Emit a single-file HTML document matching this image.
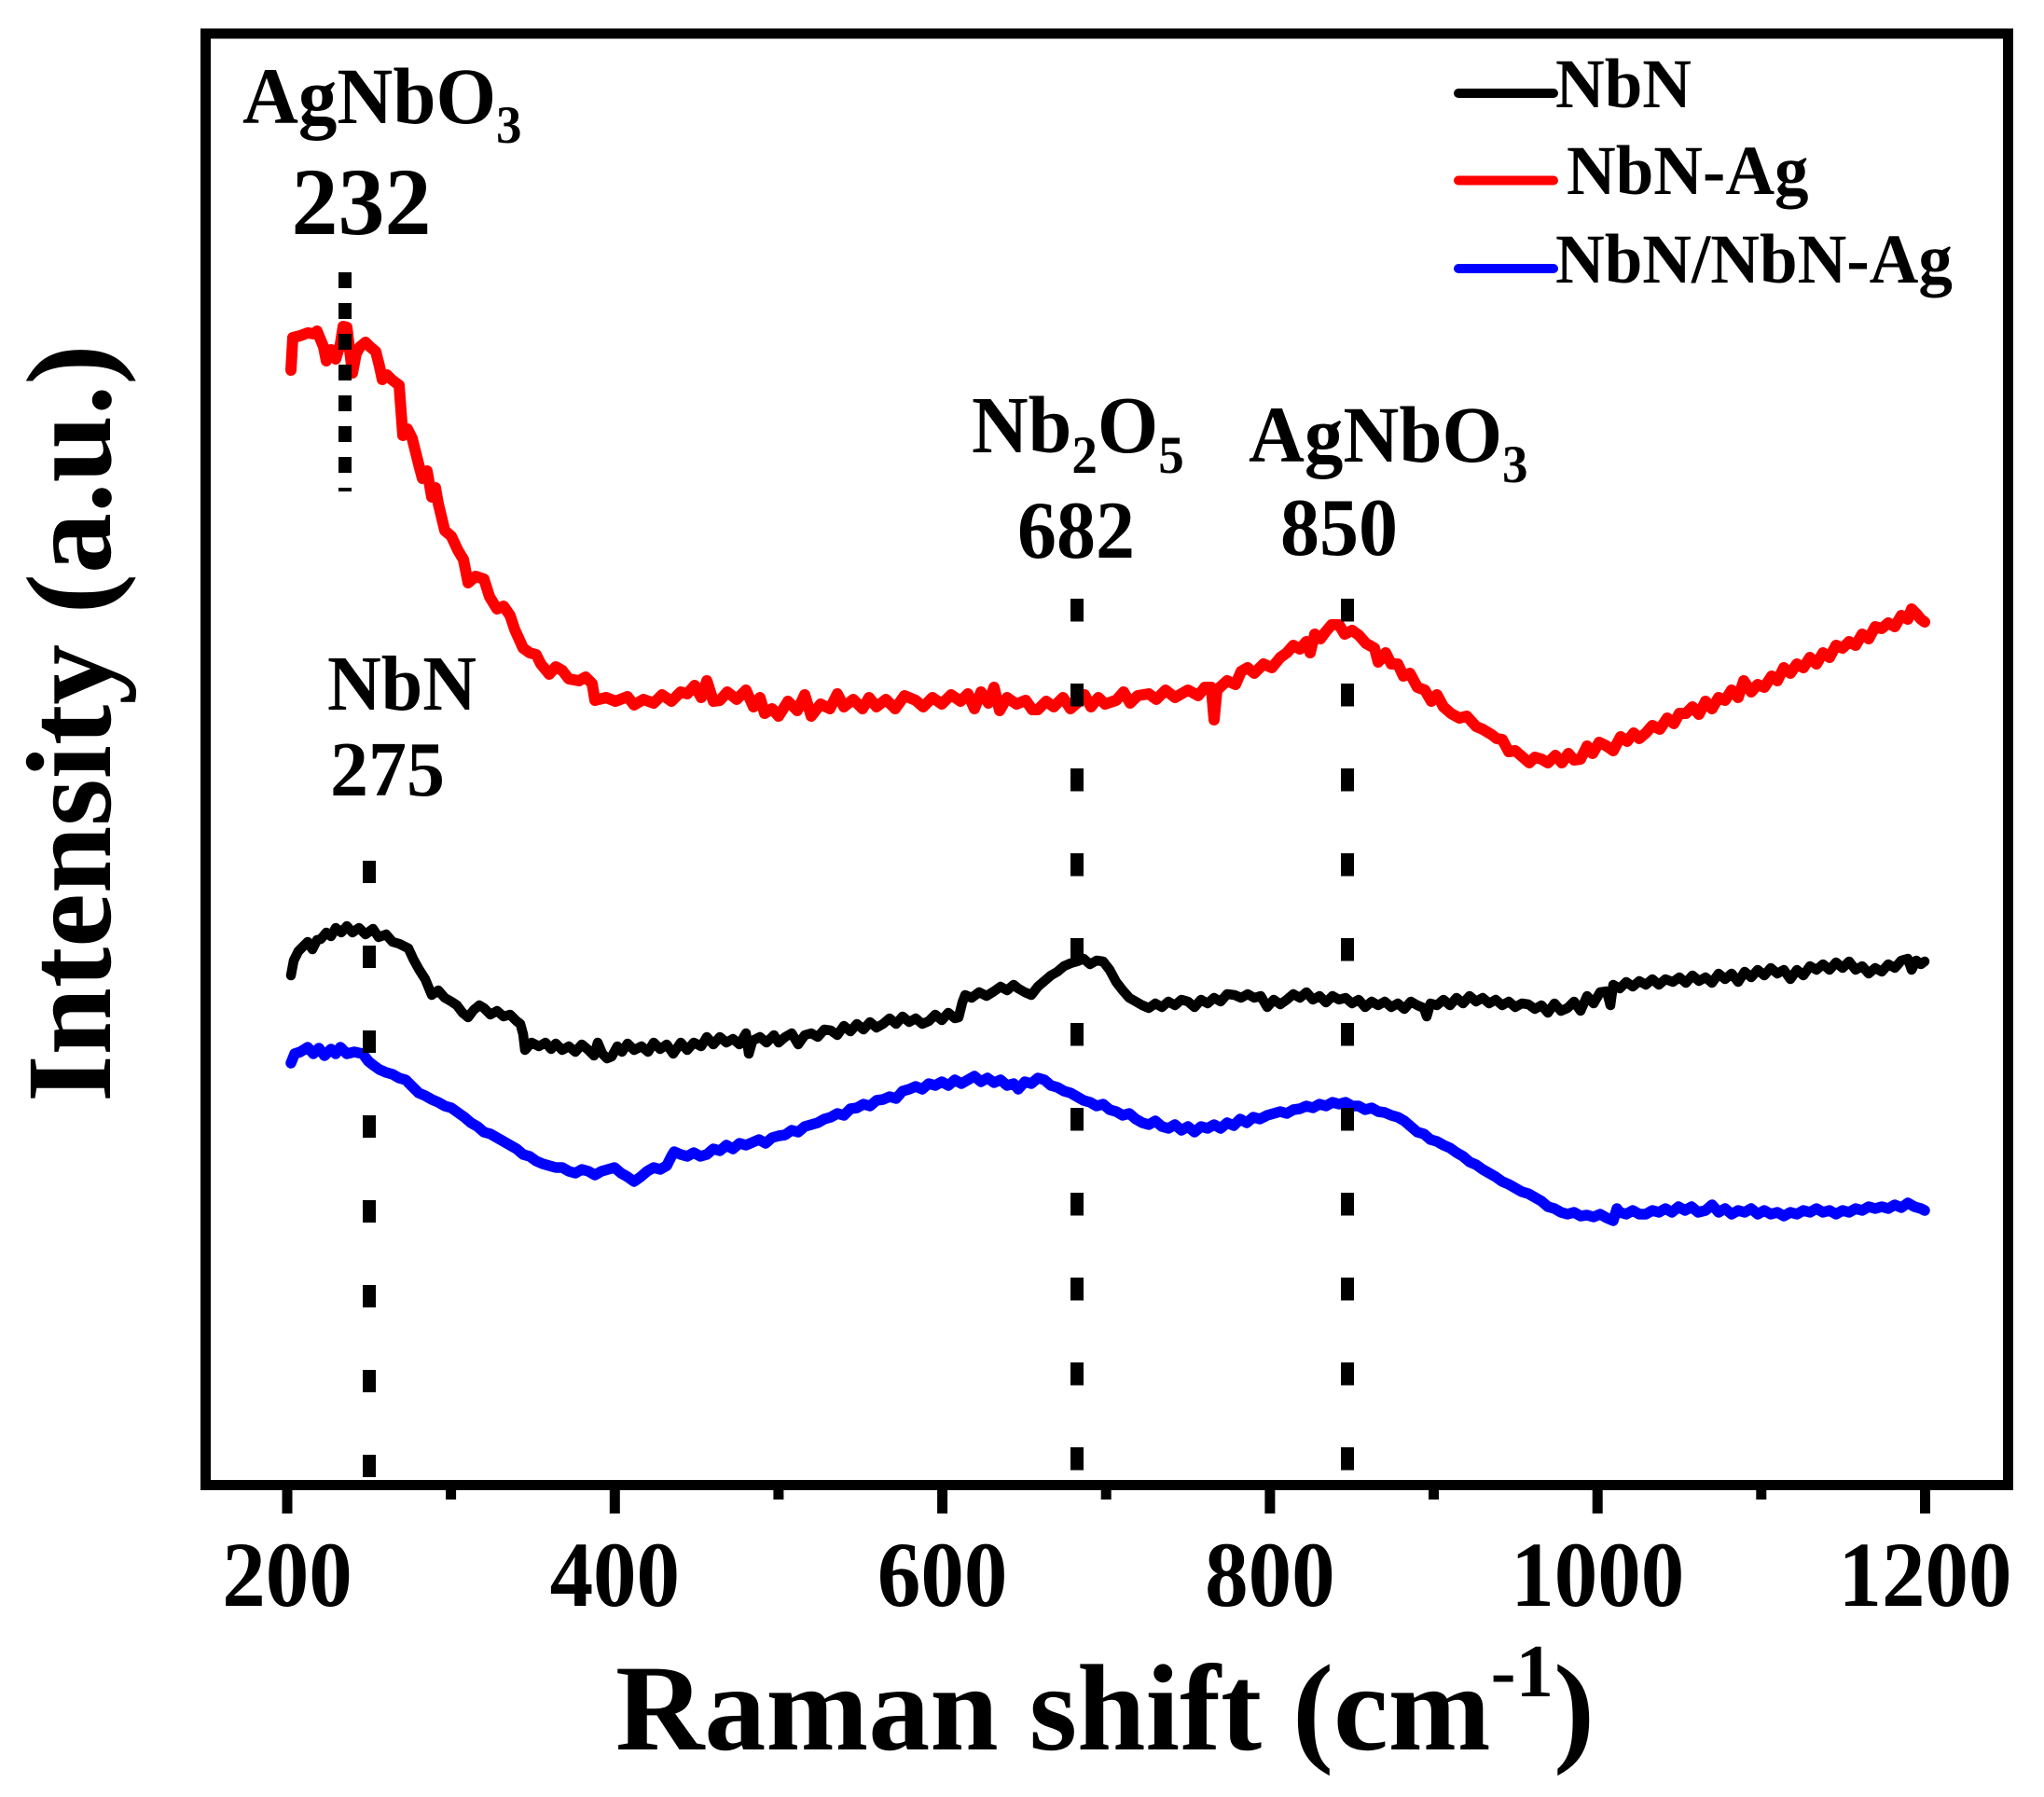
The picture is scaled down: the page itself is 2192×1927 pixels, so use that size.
<!DOCTYPE html>
<html>
<head>
<meta charset="utf-8">
<style>
html,body{margin:0;padding:0;background:#fff;}
svg{display:block;}
text{font-family:"Liberation Serif","Times New Roman",serif;font-weight:bold;fill:#000;}
</style>
</head>
<body>
<svg width="2192" height="1927" viewBox="0 0 2192 1927" xmlns="http://www.w3.org/2000/svg">
<rect x="0" y="0" width="2192" height="1927" fill="#fff"/>

<!-- curves -->
<g fill="none" stroke-linejoin="round" stroke-linecap="round">
<polyline stroke="#ff0000" stroke-width="12" points="312,397 314,362 322,360 330,357 337,358 340,355 347,372 350,387 355,375 360,385 365,369 368,350 372,351 378,400 382,379 386,372 392,367 397,372 403,377 407,393 410,407 415,402 420,407 428,413 432,467 437,460 442,470 447,490 449,498 453,513 458,505 463,533 467,523 470,540 477,569 484,575 491,590 497,600 502,625 510,618 519,621 525,640 533,653 540,650 547,660 552,675 561,695 568,700 575,702 580,712 589,723 596,715 603,719 610,728 621,730 628,726 635,733 638,751 650,748 660,752 673,747 680,756 690,750 701,754 710,745 720,752 730,742 737,744 745,735 752,748 758,730 765,752 772,751 780,742 790,750 800,740 808,758 815,748 820,765 828,760 835,768 845,752 855,762 863,745 870,768 880,755 890,760 898,744 905,758 915,750 925,760 932,748 940,758 950,750 960,760 970,746 982,751 990,758 1000,748 1010,755 1020,745 1030,752 1038,744 1045,760 1052,742 1060,754 1066,737 1072,762 1080,748 1090,755 1100,751 1107,761 1113,761 1122,752 1130,758 1140,748 1148,760 1155,754 1163,745 1170,758 1178,748 1185,755 1197,751 1205,742 1212,754 1220,746 1232,744 1240,750 1250,740 1260,748 1274,740 1285,746 1292,737 1299,737 1302,772 1305,740 1316,730 1325,734 1331,720 1338,716 1345,722 1355,712 1364,716 1373,705 1380,700 1387,692 1394,696 1401,688 1405,700 1410,680 1416,685 1422,677 1428,670 1436,670 1442,680 1450,676 1457,681 1465,690 1474,695 1478,710 1486,700 1492,712 1499,712 1505,725 1512,722 1520,737 1528,740 1535,752 1541,745 1548,758 1556,765 1565,770 1573,768 1583,779 1590,782 1600,788 1605,792 1611,793 1618,806 1625,805 1632,811 1640,818 1646,812 1653,814 1660,818 1668,810 1675,818 1682,808 1688,815 1695,814 1702,800 1708,808 1715,796 1723,800 1730,805 1738,790 1745,795 1752,786 1758,792 1765,786 1772,778 1780,782 1788,770 1795,776 1801,765 1808,765 1815,758 1822,766 1829,752 1836,760 1843,748 1850,751 1857,740 1864,748 1870,730 1878,742 1885,734 1892,737 1900,725 1906,730 1913,716 1920,722 1927,712 1934,716 1941,705 1948,712 1955,700 1962,705 1969,692 1976,695 1983,688 1990,692 1997,680 2004,685 2011,672 2018,674 2025,668 2032,672 2039,660 2046,664 2050,653 2055,658 2060,664 2064,667"/>

<polyline stroke="#000000" stroke-width="10.5" points="312,1046 315,1030 320,1020 323,1017 330,1010 335,1018 340,1008 344,1007 350,1000 355,1004 360,995 366,1000 372,993 378,1000 385,995 392,1002 400,996 406,1005 414,1002 421,1010 428,1012 438,1017 443,1028 449,1039 456,1050 463,1067 470,1062 477,1070 484,1074 490,1078 496,1086 502,1091 508,1083 514,1078 519,1081 526,1088 533,1084 540,1090 547,1088 554,1095 558,1098 561,1109 563,1126 570,1118 578,1122 585,1118 591,1125 596,1119 603,1126 610,1122 617,1128 624,1120 631,1126 637,1132 641,1118 646,1130 651,1135 656,1133 662,1122 667,1128 673,1119 680,1126 688,1122 695,1128 701,1118 708,1125 715,1120 722,1130 730,1118 737,1126 744,1118 752,1122 758,1112 765,1120 772,1112 779,1118 786,1114 793,1120 800,1108 803,1130 807,1116 815,1112 822,1118 830,1110 835,1118 842,1112 849,1108 856,1120 863,1110 870,1108 877,1112 884,1104 891,1105 898,1110 905,1100 912,1106 919,1098 926,1104 933,1096 940,1102 947,1098 954,1092 961,1098 968,1090 975,1096 982,1092 989,1098 996,1095 1003,1088 1010,1094 1017,1086 1024,1092 1028,1091 1032,1075 1035,1067 1042,1070 1050,1064 1058,1068 1066,1063 1073,1058 1080,1062 1087,1056 1092,1060 1099,1064 1106,1067 1113,1058 1120,1052 1127,1046 1134,1042 1141,1036 1148,1033 1155,1031 1162,1028 1169,1034 1176,1030 1183,1031 1190,1040 1197,1053 1204,1062 1211,1070 1218,1074 1225,1078 1232,1081 1239,1076 1246,1080 1253,1074 1260,1078 1267,1072 1274,1074 1281,1080 1288,1072 1295,1076 1302,1070 1309,1074 1316,1066 1324,1067 1331,1070 1338,1066 1345,1070 1352,1068 1359,1080 1366,1072 1373,1077 1380,1072 1387,1066 1394,1070 1401,1064 1408,1072 1415,1068 1422,1075 1429,1068 1436,1072 1443,1070 1450,1076 1457,1072 1464,1080 1471,1074 1478,1078 1485,1074 1492,1080 1499,1076 1506,1082 1513,1074 1520,1078 1527,1081 1530,1090 1534,1076 1541,1078 1548,1072 1555,1078 1562,1070 1569,1076 1576,1068 1583,1074 1590,1070 1597,1076 1604,1072 1611,1078 1618,1074 1625,1080 1632,1076 1639,1077 1646,1082 1653,1078 1660,1086 1667,1076 1674,1084 1681,1081 1688,1074 1695,1084 1702,1068 1709,1076 1716,1064 1723,1063 1727,1078 1730,1056 1737,1060 1744,1053 1751,1058 1758,1052 1765,1056 1772,1050 1779,1056 1786,1050 1794,1053 1801,1048 1808,1054 1815,1046 1822,1052 1829,1048 1836,1054 1843,1044 1850,1050 1857,1044 1864,1053 1871,1042 1878,1048 1885,1040 1892,1046 1899,1038 1906,1044 1913,1040 1920,1050 1927,1040 1934,1046 1941,1036 1948,1040 1955,1034 1962,1040 1969,1032 1976,1038 1983,1031 1990,1040 1997,1036 2004,1044 2011,1038 2018,1042 2025,1034 2032,1038 2039,1030 2046,1028 2050,1040 2055,1030 2060,1034 2064,1031"/>

<polyline stroke="#0000ff" stroke-width="11.5" points="312,1140 316,1130 322,1128 330,1123 336,1130 342,1124 348,1132 355,1125 360,1130 365,1123 372,1130 380,1128 389,1130 395,1138 400,1142 407,1147 414,1150 421,1152 428,1156 435,1158 442,1165 449,1172 456,1175 463,1179 470,1182 477,1186 484,1188 491,1193 498,1198 505,1204 512,1208 519,1214 526,1216 533,1220 540,1224 547,1228 554,1232 561,1238 568,1240 575,1245 582,1248 589,1250 596,1252 603,1252 610,1256 617,1258 624,1254 631,1256 638,1260 645,1256 652,1254 659,1252 666,1258 673,1262 680,1267 687,1262 694,1256 701,1252 708,1254 715,1250 720,1240 723,1235 730,1238 737,1240 744,1236 751,1240 758,1238 765,1232 772,1234 779,1228 786,1232 793,1226 800,1228 807,1225 814,1222 821,1226 828,1220 835,1218 842,1217 849,1212 856,1214 863,1208 870,1206 877,1204 884,1200 891,1198 898,1194 905,1196 912,1189 919,1188 926,1184 933,1186 940,1180 947,1179 954,1176 961,1178 968,1170 975,1168 982,1165 989,1168 996,1162 1003,1164 1010,1160 1017,1164 1024,1158 1031,1162 1038,1158 1045,1154 1052,1160 1059,1156 1066,1161 1073,1158 1080,1164 1087,1162 1092,1168 1099,1160 1106,1162 1113,1156 1120,1158 1127,1164 1134,1166 1141,1170 1148,1172 1155,1176 1162,1180 1169,1182 1176,1186 1183,1184 1190,1190 1197,1192 1204,1196 1211,1194 1218,1200 1225,1204 1232,1206 1239,1202 1246,1208 1253,1210 1260,1206 1267,1212 1274,1208 1281,1214 1288,1208 1295,1210 1302,1206 1309,1210 1316,1204 1323,1207 1330,1200 1337,1204 1344,1198 1351,1200 1359,1196 1366,1194 1373,1192 1380,1194 1387,1190 1394,1189 1401,1186 1408,1188 1415,1184 1422,1186 1429,1182 1436,1184 1443,1182 1450,1186 1457,1186 1464,1190 1471,1188 1478,1192 1485,1193 1492,1196 1499,1198 1506,1202 1513,1208 1520,1214 1527,1216 1534,1222 1541,1224 1548,1228 1555,1231 1562,1236 1569,1240 1576,1246 1583,1249 1590,1254 1597,1258 1604,1262 1611,1267 1618,1270 1625,1274 1632,1278 1639,1280 1646,1284 1653,1288 1660,1294 1667,1296 1674,1300 1681,1302 1688,1300 1695,1304 1702,1303 1709,1305 1716,1302 1723,1306 1730,1309 1734,1296 1737,1300 1744,1302 1751,1298 1758,1302 1765,1302 1772,1298 1779,1300 1786,1296 1793,1300 1800,1294 1807,1298 1814,1294 1821,1300 1829,1298 1836,1292 1843,1300 1850,1296 1857,1302 1864,1298 1871,1300 1878,1296 1885,1302 1892,1298 1899,1302 1906,1300 1913,1304 1920,1300 1927,1302 1934,1298 1941,1300 1948,1296 1955,1300 1962,1298 1969,1302 1976,1298 1983,1300 1990,1296 1997,1298 2004,1294 2011,1296 2018,1294 2025,1296 2032,1292 2039,1295 2046,1290 2053,1294 2060,1296 2064,1298"/>
</g>

<!-- dashed reference lines -->
<g stroke="#000" fill="none">
<line x1="370" y1="292" x2="370" y2="527" stroke-width="14" stroke-dasharray="17 16"/>
<line x1="396" y1="923" x2="396" y2="1584" stroke-width="14" stroke-dasharray="24 67"/>
<line x1="1155" y1="642" x2="1155" y2="1578" stroke-width="14" stroke-dasharray="24.5 66.5"/>
<line x1="1445" y1="642" x2="1445" y2="1578" stroke-width="14" stroke-dasharray="24.5 66.5"/>
</g>

<!-- frame -->
<rect x="220.5" y="36" width="1933" height="1556.5" fill="none" stroke="#000" stroke-width="11"/>

<!-- ticks -->
<g stroke="#000" stroke-width="11">
<line x1="308" y1="1597" x2="308" y2="1623"/>
<line x1="659.3" y1="1597" x2="659.3" y2="1623"/>
<line x1="1010.6" y1="1597" x2="1010.6" y2="1623"/>
<line x1="1361.9" y1="1597" x2="1361.9" y2="1623"/>
<line x1="1713.2" y1="1597" x2="1713.2" y2="1623"/>
<line x1="2064.5" y1="1597" x2="2064.5" y2="1623"/>
<line x1="483.6" y1="1597" x2="483.6" y2="1608"/>
<line x1="834.9" y1="1597" x2="834.9" y2="1608"/>
<line x1="1186.2" y1="1597" x2="1186.2" y2="1608"/>
<line x1="1537.5" y1="1597" x2="1537.5" y2="1608"/>
<line x1="1888.8" y1="1597" x2="1888.8" y2="1608"/>
</g>

<!-- tick labels -->
<g font-size="93" text-anchor="middle">
<text transform="translate(308,1722) scale(1,1.07)">200</text>
<text transform="translate(659.3,1722) scale(1,1.07)">400</text>
<text transform="translate(1010.6,1722) scale(1,1.07)">600</text>
<text transform="translate(1361.9,1722) scale(1,1.07)">800</text>
<text transform="translate(1713.2,1722) scale(1,1.07)">1000</text>
<text transform="translate(2064.5,1722) scale(1,1.07)">1200</text>
</g>

<!-- axis titles -->
<text x="660" y="1876" font-size="132">Raman shift (cm<tspan font-size="81" dy="-57">-1</tspan><tspan dy="57">)</tspan></text>
<text transform="translate(118,1182) rotate(-90)" font-size="130">Intensity (a.u.)</text>

<!-- peak annotations -->
<text transform="translate(260,132) scale(1,1.04)" font-size="83">AgNbO<tspan font-size="55" dy="20">3</tspan></text>
<text transform="translate(387.5,251) scale(1,1.03)" font-size="100" text-anchor="middle">232</text>
<text transform="translate(351,761) scale(1,1.04)" font-size="80">NbN</text>
<text transform="translate(415.5,853) scale(1,1.02)" font-size="82" text-anchor="middle">275</text>
<text transform="translate(1042,485) scale(1,1.04)" font-size="84">Nb<tspan font-size="55" dy="21">2</tspan><tspan dy="-21">O</tspan><tspan font-size="55" dy="21">5</tspan></text>
<text transform="translate(1154,598) scale(1,1.05)" font-size="84" text-anchor="middle">682</text>
<text transform="translate(1339,495) scale(1,1.04)" font-size="83">AgNbO<tspan font-size="55" dy="21">3</tspan></text>
<text transform="translate(1436,595) scale(1,1.05)" font-size="84" text-anchor="middle">850</text>

<!-- legend -->
<g stroke-width="10" stroke-linecap="round">
<line x1="1564" y1="100" x2="1666" y2="100" stroke="#000"/>
<line x1="1564" y1="193.5" x2="1666" y2="193.5" stroke="#ff0000"/>
<line x1="1564" y1="288" x2="1666" y2="288" stroke="#0000ff"/>
</g>
<g font-size="73">
<text transform="translate(1668,115) scale(1,1.03)">NbN</text>
<text transform="translate(1680,208) scale(1,1.03)">NbN-Ag</text>
<text transform="translate(1668,303) scale(1,1.03)">NbN/NbN-Ag</text>
</g>
</svg>
</body>
</html>
